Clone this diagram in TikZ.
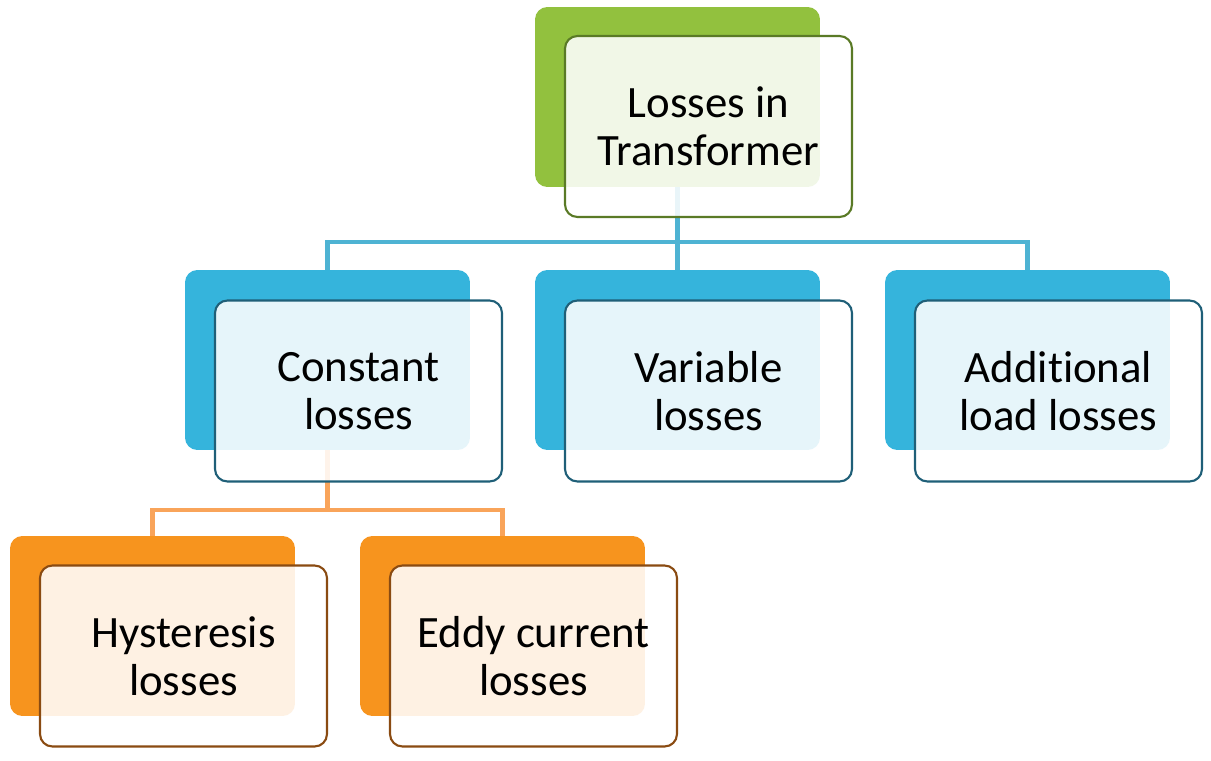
\documentclass[tikz,border=0pt]{standalone}
\usepackage{fontspec}
\setmainfont{Carlito}[Ligatures=NoCommon]
\usetikzlibrary{positioning}

\definecolor{greenback}{HTML}{92C13E}
\definecolor{greenedge}{HTML}{5A7A26}
\definecolor{blueback}{HTML}{35B4DC}
\definecolor{blueedge}{HTML}{1F5F78}
\definecolor{orangeback}{HTML}{F7941E}
\definecolor{orangeedge}{HTML}{8A4B12}
\definecolor{lineblue}{HTML}{4EB3D3}
\definecolor{lineorange}{HTML}{F9A45A}

\begin{document}
\begin{tikzpicture}[
  x=0.02cm, y=-0.02cm,
  font=\fontsize{25.5}{27.5}\selectfont,
  back/.style={rounded corners=7pt, minimum width=5.7cm, minimum height=3.6cm, inner sep=0pt},
  front/.style={draw, line width=1.2pt, rounded corners=7pt, minimum width=5.74cm, minimum height=3.62cm, inner sep=0pt, align=center, fill=white, fill opacity=0.88, text opacity=1},
  bline/.style={line width=2.3pt, draw=lineblue},
  oline/.style={line width=2.3pt, draw=lineorange},
]
\useasboundingbox (0,0) rectangle (1211,761);
% back plates
\node[back, fill=greenback] (topb) at (677.5,97) {};
\node[back, fill=blueback] (consb) at (327.5,360) {};
\node[back, fill=blueback] (varb) at (677.5,360) {};
\node[back, fill=blueback] (addb) at (1027.5,360) {};
\node[back, fill=orangeback] (hystb) at (152.5,626) {};
\node[back, fill=orangeback] (eddyb) at (502.5,626) {};
% tree lines
\draw[bline] (topb.south) -- ++(0,55) -| (consb.north);
\draw[bline] (topb.south) -- (varb.north);
\draw[bline] (topb.south) -- ++(0,55) -| (addb.north);
\draw[oline] (consb.south) -- ++(0,60) -| (hystb.north);
\draw[oline] (consb.south) -- ++(0,60) -| (eddyb.north);
% front cards
\node[front, draw=greenedge] (top) at ([shift={(31,29.5)}]topb) {Losses in\\Transformer};
\node[front, draw=blueedge] (cons) at ([shift={(31,31)}]consb) {Constant\\losses};
\node[front, draw=blueedge] (var) at ([shift={(31,31)}]varb) {Variable\\losses};
\node[front, draw=blueedge] (add) at ([shift={(31,31)}]addb) {Additional\\load losses};
\node[front, draw=orangeedge] (hyst) at ([shift={(31,30)}]hystb) {Hysteresis\\losses};
\node[front, draw=orangeedge] (eddy) at ([shift={(31,30)}]eddyb) {Eddy current\\losses};
\end{tikzpicture}
\end{document}
